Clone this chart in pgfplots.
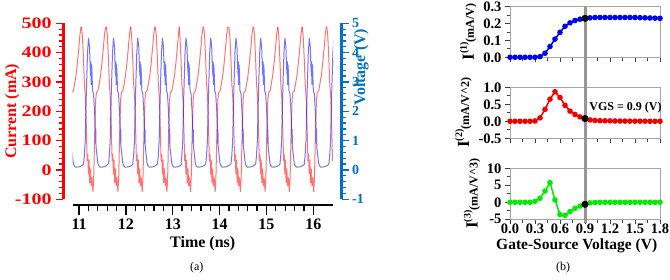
\documentclass[border=0pt]{standalone}
\usepackage{fontspec}
\setmainfont{Liberation Serif}
\usepackage{pgfplots}
\usepackage{pgfplotstable}
\pgfplotsset{compat=1.18}

\definecolor{curred}{RGB}{255,0,0}
\definecolor{volblue}{RGB}{0,112,192}
\definecolor{dotblue}{RGB}{0,0,235}
\definecolor{dotred}{RGB}{240,0,0}
\definecolor{dotgreen}{RGB}{0,235,0}
\definecolor{refgray}{RGB}{150,150,150}
\definecolor{boxgray}{RGB}{165,165,165}

\newcommand{\lbl}{\bfseries\fontsize{16}{18}\selectfont}
\newcommand{\tkl}{\bfseries\fontsize{16}{18}\selectfont}
\newcommand{\tks}{\bfseries\fontsize{14}{16}\selectfont}
\newcommand{\tkr}{\bfseries\fontsize{14.5}{16}\selectfont}
% derivative label: large I, raised order, unit
\newcommand{\dlabel}[2]{{\fontsize{17}{17}\selectfont I}\raisebox{7pt}{\fontsize{10}{10}\selectfont(#1)}{\fontsize{12}{12}\selectfont(#2)}}

% one period of the drain current: phase after the current peak (ns), current (mA)
\pgfplotstableread{
ph      I
0.000   488
0.021   455
0.043   380
0.064   290
0.075   268
0.086   240
0.107   130
0.122   30
0.135   55
0.150   -15
0.162   35
0.177   -45
0.192   5
0.209   -55
0.224   -25
0.246   -75
0.263   -20
0.282   120
0.304   240
0.321   265
0.353   270
0.374   290
0.406   320
0.438   365
0.470   420
0.492   462
0.513   485
0.5237  488
}\curperiod

% one period of the gate voltage: phase after the current peak (ns), voltage (V)
\pgfplotstableread{
ph      V
0.044   0.20
0.060   0.45
0.081   1.00
0.102   2.50
0.130   4.00
0.151   4.50
0.172   4.20
0.187   3.50
0.198   3.20
0.202   3.70
0.209   2.90
0.215   3.60
0.224   3.40
0.237   2.70
0.258   2.60
0.280   2.00
0.295   1.40
0.299   0.90
0.305   1.40
0.311   0.80
0.331   0.50
0.348   0.25
0.365   0.15
0.395   0.10
0.438   0.10
0.480   0.11
0.513   0.13
0.540   0.16
0.5677  0.20
}\volperiod

% derivatives of the drain current versus gate-source voltage
\pgfplotstableread{
x     d1      d2      d3
0.00  0.000   0.000   0.00
0.06  0.000   0.000   0.00
0.12  0.000   0.000   0.00
0.18  0.000   0.000   0.00
0.24  0.000   0.000   0.00
0.30  0.000   0.010   0.30
0.36  0.004   0.100   1.20
0.42  0.024   0.350   3.30
0.48  0.064   0.650   5.80
0.54  0.108   0.870   0.70
0.60  0.148   0.700   -3.60
0.66  0.184   0.470   -3.85
0.72  0.204   0.300   -2.70
0.78  0.218   0.200   -1.80
0.84  0.226   0.130   -1.10
0.90  0.231   0.080   -0.60
0.96  0.234   0.040   -0.15
1.02  0.236   0.025   -0.05
1.08  0.236   0.018   0.00
1.14  0.236   0.014   0.00
1.20  0.236   0.012   0.00
1.26  0.236   0.010   0.00
1.32  0.236   0.008   0.00
1.38  0.236   0.006   0.00
1.44  0.236   0.005   0.00
1.50  0.236   0.004   0.00
1.56  0.235   0.003   0.00
1.62  0.234   0.002   0.00
1.68  0.233   0.001   0.00
1.74  0.232   0.000   0.00
1.80  0.231   0.000   0.00
}\derivs

\pgfplotsset{
  wave/.style={scale only axis, width=260.5pt, height=176pt,
    at={(72.5pt,80.7pt)}, anchor=south west,
    xmin=10.86, xmax=16.42,
    /pgf/number format/assume math mode=true},
  deriv/.style={scale only axis, width=150pt, xmin=0, xmax=1.8,
    xtick={0,0.3,0.6,0.9,1.2,1.5,1.8}, minor x tick num=1,
    xtick pos=left, ytick pos=left, tick align=outside,
    major tick length=5pt, minor tick length=3.5pt,
    axis line style={boxgray, line width=0.8pt},
    tick style={black!75, line width=0.8pt},
    ticklabel style={font=\tkr},
    /pgf/number format/assume math mode=true,
    xticklabel style={yshift=3.5pt, /pgf/number format/.cd, fixed, fixed zerofill, precision=1},
    ylabel style={font=\bfseries},
    clip=false},
}

\begin{document}
\begin{tikzpicture}
\useasboundingbox (0,0) rectangle (670pt,280pt);

% ---------- (a) time-domain waveforms ----------
% time axis
\begin{axis}[wave, ymin=-100, ymax=500, hide y axis,
  axis x line*=bottom, axis x line shift=5.7pt,
  x axis line style={black, line width=1.5pt},
  xtick={11,12,13,14,15,16}, minor x tick num=4,
  tick align=outside, major tick length=10pt, minor tick length=6.5pt,
  tick style={black, line width=1.3pt},
  xticklabel style={font=\tkl},
  xlabel={Time (ns)},
  xlabel style={font=\lbl, at={(axis description cs:0.5,0)}, anchor=center, yshift=-44pt}]
\end{axis}

% drain current
\begin{axis}[wave, ymin=-100, ymax=500, hide x axis,
  axis y line*=left, axis y line shift=9pt,
  y axis line style={curred, line width=2.5pt},
  ytick={-100,0,100,200,300,400,500}, minor y tick num=4,
  tick align=outside, major tick length=7.5pt, minor tick length=4pt,
  tick style={curred, line width=1.3pt},
  yticklabel style={font=\tkl, text=curred, xscale=1.25},
  ylabel={Current (mA)},
  ylabel style={font=\lbl, text=curred, at={(axis description cs:-0.2726,0.5)}, anchor=north}]
\pgfplotsinvokeforeach{10.527,11.051,11.584,12.102,12.629,13.132,13.659,14.198,14.725,15.243,15.763,16.288}{
  \addplot[curred, draw opacity=0.55, line width=1pt] table[x expr=\thisrow{ph}+#1, y=I] {\curperiod};
}
\end{axis}

% gate voltage
\begin{axis}[wave, ymin=-1, ymax=5, hide x axis, clip mode=individual,
  axis y line*=right, axis y line shift=8.7pt,
  y axis line style={volblue, line width=2.5pt},
  ytick={-1,0,1,2,3,4,5}, minor y tick num=4,
  tick align=outside, major tick length=7pt, minor tick length=4pt,
  tick style={volblue, line width=1.3pt},
  yticklabel style={font=\tks, text=volblue}]
\pgfplotsinvokeforeach{10.527,11.051,11.584,12.102,12.629,13.132,13.659,14.198,14.725,15.243,15.763,16.288}{
  \addplot[blue, draw opacity=0.55, line width=1pt] table[x expr=\thisrow{ph}+#1, y=V] {\volperiod};
}
\node[rotate=90, anchor=south, font=\lbl, text=volblue, inner sep=0pt]
  at (axis description cs:1.138,0.75) {Voltage (V)};
\end{axis}

\node[font=\fontsize{12}{14}\selectfont] at (196.7pt,12pt) {(a)};

% ---------- (b) current derivatives ----------
\begin{axis}[deriv, at={(510pt,222.7pt)}, anchor=south west, height=50.6pt,
  ymin=0, ymax=0.3, ytick={0,0.1,0.2,0.3}, minor y tick num=1,
  xticklabels={},
  yticklabel style={/pgf/number format/.cd, fixed, fixed zerofill, precision=1},
  ylabel={\dlabel{1}{mA/V}}]
\addplot[refgray, line width=3pt, forget plot] coordinates {(0.9,0.3) (0.9,-0.178)};
\addplot[dotblue, line width=1.5pt, mark=*, mark size=2pt] table[x=x, y=d1] {\derivs};
\addplot[only marks, mark=*, mark size=3.3pt, black] coordinates {(0.9,0.231)};
\end{axis}

\begin{axis}[deriv, at={(510pt,141.7pt)}, anchor=south west, height=51pt,
  ymin=-0.5, ymax=1.0, ytick={-0.5,0,0.5,1.0}, minor y tick num=1,
  xticklabels={},
  yticklabel style={/pgf/number format/.cd, fixed, fixed zerofill, precision=1},
  ylabel={\dlabel{2}{mA/V\textasciicircum 2}}]
\addplot[refgray, line width=3pt, forget plot] coordinates {(0.9,1.0) (0.9,-1.40)};
\addplot[dotred, line width=1.5pt, mark=*, mark size=2pt] table[x=x, y=d2] {\derivs};
\addplot[only marks, mark=*, mark size=3.3pt, black] coordinates {(0.9,0.08)};
\node[anchor=west, font=\bfseries\fontsize{12}{14}\selectfont] at (axis cs:0.91,0.41) {VGS = 0.9 (V)};
\end{axis}

\begin{axis}[deriv, at={(510pt,60.7pt)}, anchor=south west, height=51pt,
  ymin=-5, ymax=10, ytick={-5,0,5,10}, minor y tick num=1,
  ylabel={\dlabel{3}{mA/V\textasciicircum 3}},
  xlabel={Gate-Source Voltage (V)},
  xlabel style={font=\bfseries\fontsize{15.5}{17}\selectfont, at={(axis description cs:0.5,0)}, anchor=center, xshift=-8.3pt, yshift=-27pt}]
\addplot[refgray, line width=3pt, forget plot] coordinates {(0.9,10) (0.9,-6.2)};
\addplot[dotgreen, line width=1.5pt, mark=*, mark size=2pt] table[x=x, y=d3] {\derivs};
\addplot[only marks, mark=*, mark size=3.3pt, black] coordinates {(0.9,-0.6)};
\end{axis}

\node[font=\fontsize{12}{14}\selectfont] at (563pt,12pt) {(b)};
\end{tikzpicture}
\end{document}
